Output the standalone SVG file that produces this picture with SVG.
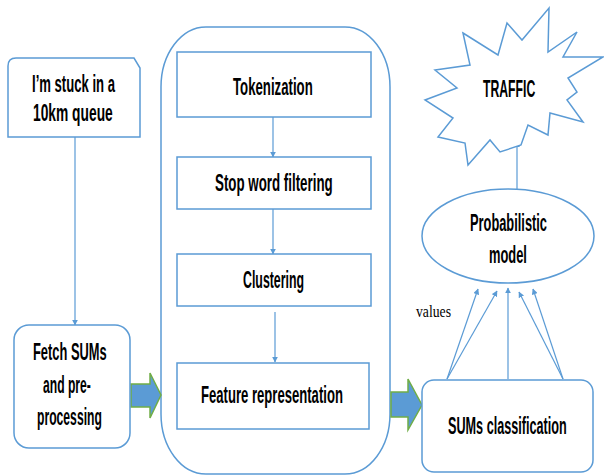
<svg xmlns="http://www.w3.org/2000/svg" width="604" height="475" viewBox="0 0 604 475">
<defs>
<style>
.box{fill:#fff;stroke:#5b9bd5;stroke-width:1.5}
.line{fill:none;stroke:#5b9bd5;stroke-width:1.2}
.big{fill:#5b9bd5;stroke:#70ad47;stroke-width:1.5}
.t{font-family:"Liberation Sans",Arial,sans-serif;font-weight:bold;font-size:24px;fill:#000}
.v{font-family:"Liberation Serif","Times New Roman",serif;font-size:17px;fill:#000}
</style>
<marker id="ah" viewBox="0 0 10 10" refX="9" refY="5" markerWidth="6" markerHeight="6" markerUnits="userSpaceOnUse" orient="auto">
<path d="M0,0 L10,5 L0,10 z" fill="#5b9bd5"/>
</marker>
</defs>
<rect width="604" height="475" fill="#fff"/>

<g id="container">
<rect class="box" x="161" y="27" width="229" height="447" rx="45" ry="60"/>
</g>

<g id="connectors">
<line class="line" x1="75" y1="137" x2="75" y2="325" marker-end="url(#ah)"/>
<line class="line" x1="273" y1="117" x2="273" y2="157" marker-end="url(#ah)"/>
<line class="line" x1="273" y1="209" x2="273" y2="254" marker-end="url(#ah)"/>
<line class="line" x1="275" y1="312" x2="275" y2="362" marker-end="url(#ah)"/>
<line class="line" x1="517" y1="189" x2="517" y2="142" marker-end="url(#ah)"/>
<line class="line" x1="447" y1="379" x2="478" y2="289" marker-end="url(#ah)"/>
<line class="line" x1="447" y1="379" x2="497" y2="291" marker-end="url(#ah)"/>
<line class="line" x1="508" y1="379" x2="508" y2="288" marker-end="url(#ah)"/>
<line class="line" x1="563" y1="379" x2="519" y2="292" marker-end="url(#ah)"/>
<line class="line" x1="563" y1="379" x2="533" y2="289" marker-end="url(#ah)"/>
<path class="big" d="M131,384 H150 V373 L161,395 L150,418 V407 H131 Z"/>
<path class="big" d="M391,392 H408 V379 L422,405 L408,430 V417 H391 Z"/>
<text class="v" x="416" y="317" textLength="35" lengthAdjust="spacingAndGlyphs">values</text>
</g>

<g id="stuck">
<path class="box" d="M8,137 V66 Q8,58 16,58 H134 L140,68 V137 Z"/>
<text class="t" transform="translate(32,92) scale(0.55,1)" textLength="151" lengthAdjust="spacingAndGlyphs">I’m stuck in a</text>
<text class="t" transform="translate(33,121) scale(0.55,1)" textLength="145" lengthAdjust="spacingAndGlyphs">10km queue</text>
</g>

<g id="fetch">
<rect class="box" x="14" y="325" width="116" height="123" rx="15"/>
<text class="t" transform="translate(33,360) scale(0.55,1)" textLength="134" lengthAdjust="spacingAndGlyphs">Fetch SUMs</text>
<text class="t" transform="translate(43,393) scale(0.55,1)" textLength="87" lengthAdjust="spacingAndGlyphs">and pre-</text>
<text class="t" transform="translate(37,425) scale(0.55,1)" textLength="118" lengthAdjust="spacingAndGlyphs">processing</text>
</g>

<g id="tokenization">
<rect class="box" x="177" y="52" width="194" height="65"/>
<text class="t" transform="translate(233,95) scale(0.55,1)" textLength="145" lengthAdjust="spacingAndGlyphs">Tokenization</text>
</g>

<g id="stopword">
<rect class="box" x="177" y="157" width="194" height="52"/>
<text class="t" transform="translate(215,191) scale(0.55,1)" textLength="214" lengthAdjust="spacingAndGlyphs">Stop word filtering</text>
</g>

<g id="clustering">
<rect class="box" x="177" y="254" width="194" height="52"/>
<text class="t" transform="translate(243,288) scale(0.55,1)" textLength="111" lengthAdjust="spacingAndGlyphs">Clustering</text>
</g>

<g id="feature">
<rect class="box" x="177" y="363" width="192" height="66"/>
<text class="t" transform="translate(201,403) scale(0.55,1)" textLength="258" lengthAdjust="spacingAndGlyphs">Feature representation</text>
</g>

<g id="classification">
<rect class="box" x="422" y="380" width="171" height="92" rx="12"/>
<text class="t" transform="translate(448,434) scale(0.55,1)" textLength="216" lengthAdjust="spacingAndGlyphs">SUMs classification</text>
</g>

<g id="model">
<ellipse class="box" cx="508" cy="236" rx="86" ry="47"/>
<text class="t" transform="translate(470,231) scale(0.55,1)" textLength="140" lengthAdjust="spacingAndGlyphs">Probabilistic</text>
<text class="t" transform="translate(489,263) scale(0.55,1)" textLength="69" lengthAdjust="spacingAndGlyphs">model</text>
</g>

<g id="traffic">
<polygon class="box" points="463,33 498,55 507,23 522,40 549,8 548,52 577,32 563,57 603,57 568,78 577,92 567,100 583,122 550,113 548,135 528,125 521,145 500,152 490,140 468,165 465,143 438,137 453,118 425,100 457,88 435,70 470,65"/>
<text class="t" transform="translate(483,97) scale(0.55,1)" textLength="95" lengthAdjust="spacingAndGlyphs">TRAFFIC</text>
</g>
</svg>
